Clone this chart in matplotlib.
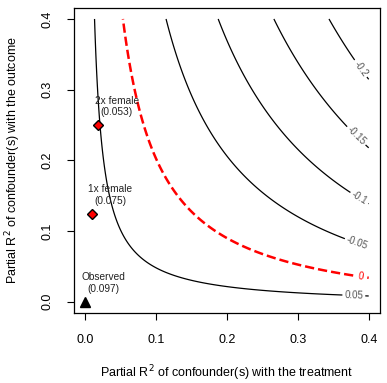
import numpy as np
import matplotlib
matplotlib.use("Agg")
import matplotlib.pyplot as plt

# ---- data ----
ESTIMATE = 0.0973      # observed point estimate
SE = 0.0232            # its standard error
DOF = 783              # residual degrees of freedom
LIM = 0.4

BLACK_LEVELS = [-0.2, -0.15, -0.1, -0.05, 0.05]
THRESHOLD = 0.0

BENCH_LABELS = ["1x female", "2x female"]
BENCH_R2DZ = [0.00916, 0.0183]
BENCH_R2YZ = [0.1246, 0.2499]
BENCH_EST = [0.075, 0.053]

plt.rcParams["font.family"] = ["Liberation Sans", "DejaVu Sans"]

# adjusted-estimate surface (sensitivity contour)
r2dz = np.linspace(0, LIM, 400)
r2yz = np.linspace(0, LIM, 400)
X, Y = np.meshgrid(r2dz, r2yz)
bias = SE * np.sqrt(DOF) * np.sqrt(Y * X / (1 - X))
Z = ESTIMATE - bias

fig = plt.figure(figsize=(3.87, 3.83), dpi=100)
ax = fig.add_axes([0.191, 0.183, 0.791, 0.797])

cs = ax.contour(X, Y, Z, levels=BLACK_LEVELS, colors="black", linewidths=0.9,
                linestyles="solid", negative_linestyles="solid")
ax.clabel(cs, fmt=lambda v: f"{v:g}", fontsize=7, colors="#555555", inline=True,
          inline_spacing=3,
          manual=[(0.389, 0.330), (0.379, 0.231), (0.387, 0.147),
                  (0.384, 0.084), (0.379, 0.008)])

cr = ax.contour(X, Y, Z, levels=[THRESHOLD], colors="red", linewidths=1.8,
                linestyles="--")
ax.clabel(cr, fmt=lambda v: f"{v:g}", fontsize=7, colors="red", inline=True,
          manual=[(0.388, 0.035)])

# observed point
ax.plot(0, 0, marker="^", color="black", markersize=6.5, linestyle="none")
ax.text(0.026, 0.026, f"Observed\n({ESTIMATE:.3f})", ha="center", va="center",
        fontsize=7.3, color="#222222", linespacing=1.2)

# benchmarks
for lab, x, y, est in zip(BENCH_LABELS, BENCH_R2DZ, BENCH_R2YZ, BENCH_EST):
    ax.plot(x, y, marker="D", markerfacecolor="red", markeredgecolor="black",
            markersize=5.5, linestyle="none")
    ax.text(x + 0.026, y + 0.026, f"{lab}\n({est:.3f})", ha="center", va="center",
            fontsize=7.3, color="#222222", linespacing=1.2)

ax.set_xlim(-0.016, 0.416)
ax.set_ylim(-0.016, 0.416)
ticks = [0.0, 0.1, 0.2, 0.3, 0.4]
ax.set_xticks(ticks)
ax.set_yticks(ticks)
ax.set_xticklabels([f"{t:.1f}" for t in ticks])
ax.set_yticklabels([f"{t:.1f}" for t in ticks], rotation=90, va="center")
ax.tick_params(direction="out", length=5, width=0.8, labelsize=9, pad=10)

ax.set_xlabel("Partial R$^2$ of confounder(s) with the treatment", fontsize=9,
              labelpad=13)
ax.set_ylabel("Partial R$^2$ of confounder(s) with the outcome", fontsize=9,
              labelpad=13)

for s in ax.spines.values():
    s.set_linewidth(0.9)

fig.savefig("out.png", dpi=100)
